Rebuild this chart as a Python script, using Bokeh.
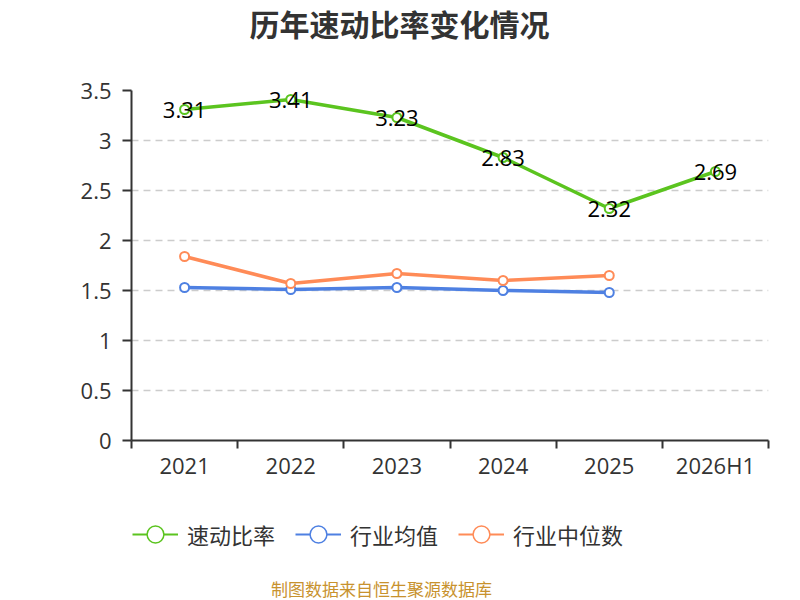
from bokeh.plotting import figure
from bokeh.layouts import column
from bokeh.models import (Range1d, FixedTicker, NumeralTickFormatter, Legend,
                          LegendItem, Label, ColumnDataSource)
from bokeh.embed import file_html
from bokeh.resources import INLINE

periods = ["2021", "2022", "2023", "2024", "2025", "2026H1"]
quick_ratio = [3.31, 3.41, 3.23, 2.83, 2.32, 2.69]
industry_mean = [1.53, 1.51, 1.53, 1.50, 1.48]
industry_median = [1.84, 1.57, 1.67, 1.60, 1.65]
series_names = ["速动比率", "行业均值", "行业中位数"]

GREEN = "#5bc41f"
BLUE = "#4e80e2"
ORANGE = "#ff8b57"
AXIS = "#333333"

xpos = [i + 0.5 for i in range(len(periods))]


def strip(height):
    # plain figure with no axes, used for the title and the legend rows
    s = figure(width=784, height=height, output_backend="svg",
               toolbar_location=None, x_range=Range1d(0, 1),
               y_range=Range1d(0, 1), x_axis_location=None,
               y_axis_location=None, min_border=0)
    s.outline_line_color = None
    s.grid.grid_line_color = None
    return s


head = strip(45)
head.add_layout(Label(x=268, y=23, x_units="screen", y_units="screen",
                      text="历年速动比率变化情况", text_align="center",
                      text_baseline="middle", text_font="Noto Sans CJK SC",
                      text_font_size="30px", text_font_style="bold",
                      text_color=AXIS))

p = figure(width=784, height=445, output_backend="svg", toolbar_location=None,
           x_range=Range1d(0, len(periods)), y_range=Range1d(0, 3.5),
           min_border_left=131, min_border_right=16,
           min_border_top=45, min_border_bottom=50)
p.outline_line_color = None

# x axis: labels at centers, ticks at boundaries
p.xaxis.ticker = FixedTicker(ticks=xpos, minor_ticks=list(range(len(periods) + 1)))
p.xaxis.major_label_overrides = {x: lab for x, lab in zip(xpos, periods)}
p.xaxis.major_tick_out = 0
p.xaxis.major_tick_in = 0
p.xaxis.minor_tick_out = 8
p.xaxis.minor_tick_in = 0
p.xaxis.minor_tick_line_color = AXIS
p.xaxis.minor_tick_line_width = 2
p.xaxis.axis_line_color = AXIS
p.xaxis.axis_line_width = 2
p.xaxis.major_label_text_font = "Open Sans"
p.xaxis.major_label_text_font_size = "22px"
p.xaxis.major_label_text_color = AXIS
p.xaxis.major_label_standoff = 1

p.yaxis.ticker = FixedTicker(ticks=[0, 0.5, 1, 1.5, 2, 2.5, 3, 3.5])
p.yaxis.formatter = NumeralTickFormatter(format="0.[0]")
p.yaxis.minor_tick_line_color = None
p.yaxis.major_tick_out = 9
p.yaxis.major_tick_in = 0
p.yaxis.major_tick_line_color = AXIS
p.yaxis.major_tick_line_width = 2
p.yaxis.axis_line_color = AXIS
p.yaxis.axis_line_width = 2
p.yaxis.major_label_text_font = "Open Sans"
p.yaxis.major_label_text_font_size = "22px"
p.yaxis.major_label_text_color = AXIS
p.yaxis.major_label_standoff = 11

p.xgrid.grid_line_color = None
p.ygrid.grid_line_color = "#cccccc"
p.ygrid.grid_line_dash = "7 5"
p.ygrid.grid_line_width = 1.5

colors = [GREEN, BLUE, ORANGE]
for vals, color in zip([quick_ratio, industry_mean, industry_median], colors):
    xs = xpos[:len(vals)]
    p.line(xs, vals, line_color=color, line_width=3.5)
    p.scatter(xs, vals, size=9, fill_color="white", line_color=color,
              line_width=2)

src = ColumnDataSource(dict(x=xpos, y=quick_ratio,
                            t=["%.2f" % v for v in quick_ratio]))
p.text("x", "y", text="t", source=src, text_align="center",
       text_baseline="middle", text_font_size="22px", text_color="black",
       text_font={"value": "Open Sans"})

# legend and source note live in a strip below the chart
leg = strip(110)

items = []
for name, color in zip(series_names, colors):
    # off-range point: only the legend glyph shows
    ln = leg.line(x=[5, 6], y=[5, 6], line_color=color, line_width=2)
    sc = leg.scatter(x=[5], y=[5], size=8, fill_color="white", line_color=color,
                     line_width=1.5)
    items.append(LegendItem(label=name, renderers=[ln, sc]))

legend = Legend(items=items, orientation="horizontal", location=(1, 45),
                label_text_font="Noto Sans CJK SC", label_text_font_size="22px",
                label_text_color=AXIS, glyph_width=46, glyph_height=42,
                label_standoff=9, spacing=20, padding=0, margin=0,
                border_line_color=None, background_fill_alpha=0)
leg.add_layout(legend, "center")

note = Label(x=250, y=12, x_units="screen", y_units="screen",
             text="制图数据来自恒生聚源数据库", text_align="center",
             text_baseline="middle", text_font="Noto Sans CJK SC",
             text_font_size="17px", text_color="#c8922e")
leg.add_layout(note)

layout = column(head, p, leg, spacing=0)
open("out.html", "w").write(file_html(layout, INLINE))
